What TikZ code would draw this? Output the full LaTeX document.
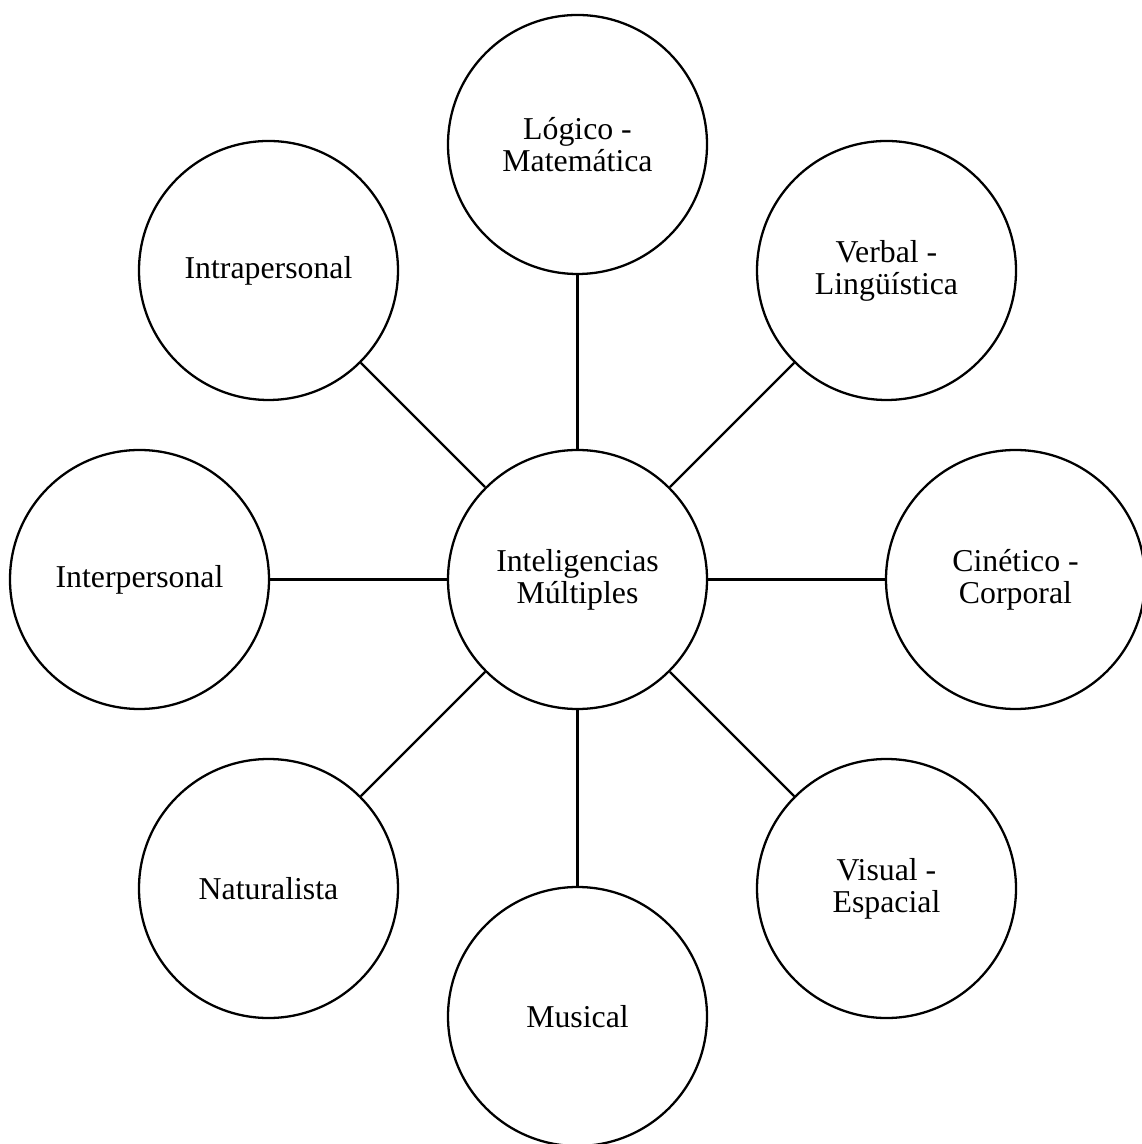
\documentclass[tikz,border=0pt]{standalone}
\usepackage{fontspec}
\setmainfont{Liberation Serif}
\usepackage{tikz}
\usetikzlibrary{shapes,calc}
\tikzset{fig/.style={
    line width=0.65pt,
    circle,
    draw=black,
    minimum size=2.59cm,
    inner sep=0pt,
    align=center,
    font=\fontsize{9.05}{9.1}\selectfont}}

\begin{document}
\begin{tikzpicture}
  \useasboundingbox (-5.775,-5.645) rectangle (5.635,5.795);
  \coordinate (C) at (0,0);
\coordinate (T) at (90:4.35);
\coordinate (TR) at (45:4.37);
\coordinate (R) at (0:4.38);
\coordinate (BR) at (-45:4.37);
\coordinate (B) at (-90:4.37);
\coordinate (BL) at (-135:4.37);
\coordinate (L) at (180:4.38);
\coordinate (TL) at (135:4.37);

\node[fig] (imc) at (C) {Inteligencias\\M\'ultiples};

\node[fig] (logico) at (T) {L\'ogico -\\Matem\'atica};
\node[fig] (verbal) at (TR) {Verbal -\\Ling\"u\'istica};
\node[fig] (cinetico) at (R) {Cin\'etico -\\Corporal};
\node[fig] (visual) at (BR) {Visual -\\Espacial};
\node[fig] (musical) at (B) {Musical};
\node[fig] (naturalista) at (BL) {Naturalista};
\node[fig] (inter) at (L) {Interpersonal};
\node[fig] (intra) at (TL) {Intrapersonal};

\draw[line width=0.65pt] (imc) -- (logico);
\draw[line width=0.65pt] (imc) -- (verbal);
\draw[line width=0.65pt] (imc) -- (cinetico);
\draw[line width=0.65pt] (imc) -- (visual);
\draw[line width=0.65pt] (imc) -- (musical);
\draw[line width=0.65pt] (imc) -- (naturalista);
\draw[line width=0.65pt] (imc) -- (inter);
\draw[line width=0.65pt] (imc) -- (intra);

\end{tikzpicture}
\end{document}
